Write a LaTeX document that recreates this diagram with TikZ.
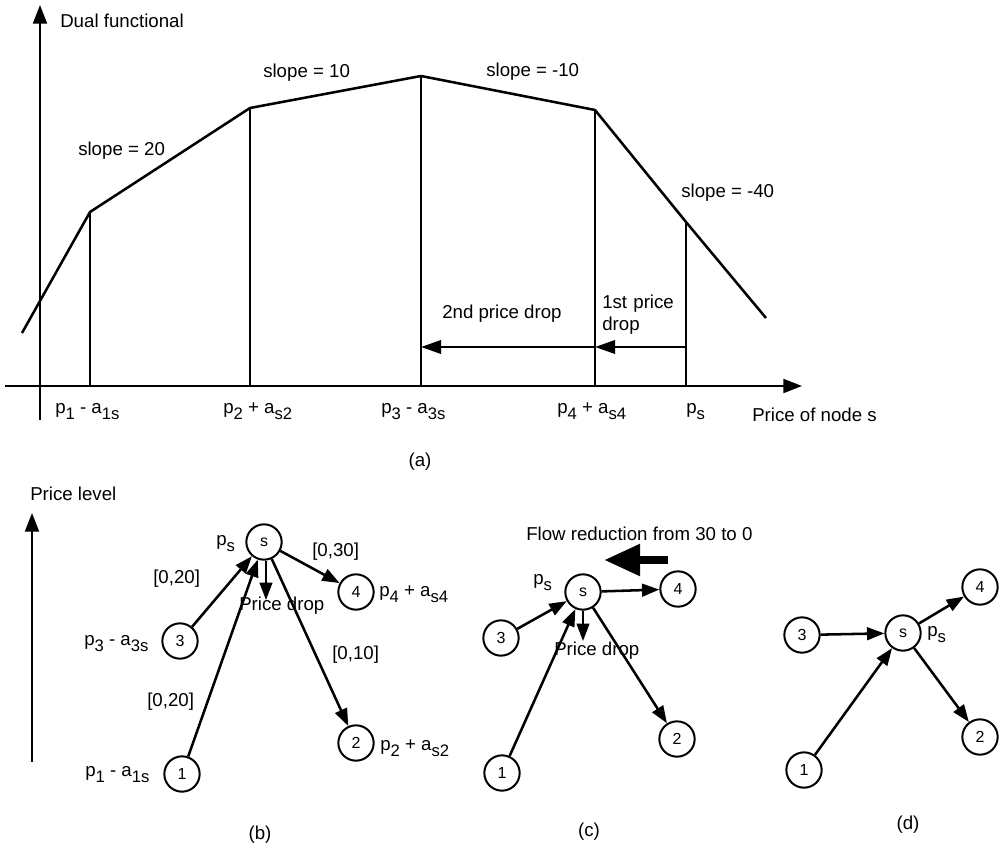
\documentclass[tikz,border=0pt]{standalone}
\usepackage{fontspec}
\setmainfont{Liberation Sans}
\usetikzlibrary{arrows.meta}
\newcommand\lbl{\fontsize{14pt}{16pt}\selectfont}
\newcommand\lo[1]{\raisebox{-5pt}{\fontsize{12.5pt}{13pt}\selectfont #1}}
\tikzset{
 txt/.style={inner sep=0pt, anchor=base west, font=\lbl},
 ctxt/.style={inner sep=0pt, anchor=center, font=\lbl},
 cnode/.style={circle, draw, line width=1.5pt, minimum size=26.5pt, inner sep=0pt, font=\fontsize{12pt}{13pt}\selectfont},
 garc/.style={line width=1.9pt, -{Triangle[length=13pt,width=9.5pt]}},
 axarr/.style={line width=1.5pt, -{Triangle[length=14pt,width=10.5pt]}},
 vline/.style={line width=1.5pt},
 curveline/.style={line width=1.9pt, line join=round},
 droparr/.style={line width=1.9pt, -{Triangle[length=15pt,width=10pt]}},
 pdarr/.style={line width=1.5pt, -{Triangle[length=13pt,width=9.5pt]}},
}
\begin{document}
\begin{tikzpicture}[x=0.75pt,y=-0.75pt]
\useasboundingbox (0,0) rectangle (1005,855);
% ---------- (a) chart ----------
\coordinate (ytop) at (40,5);
\coordinate (ybot) at (40,420);
\coordinate (xl) at (5,386);
\coordinate (xr) at (802,386);
\draw[axarr] (ybot) -- (ytop);
\draw[axarr] (xl) -- (xr);
\coordinate (c0) at (22,333);
\coordinate (k1) at (90,212);
\coordinate (k2) at (250,108);
\coordinate (k3) at (421,76);
\coordinate (k4) at (595,110);
\coordinate (k5) at (686,222);
\coordinate (c6) at (766,318);
\draw[curveline] (c0) -- (k1) -- (k2) -- (k3) -- (k4) -- (k5) -- (c6);
\foreach \k in {k1,k2,k3,k4,k5}{\draw[vline] (\k) -- (\k |- xl);}
\coordinate (d5) at (686,347);
\coordinate (d4) at (595,347);
\coordinate (d3) at (421,347);
\draw[droparr] (d5) -- (d4);
\draw[droparr] (d4) -- (d3);
\node[txt] (tdual) at (60,28) {Dual functional};
\node[txt] (ts20) at (78,156) {slope = 20};
\node[txt] (ts10) at (263,78) {slope = 10};
\node[txt] (tsm10) at (486,77) {slope = -10};
\node[txt] (tsm40) at (681,198) {slope = -40};
\node[txt] (t2nd) at (442,318) {2nd price drop};
\node[txt] (t1st) at (602,308) {1st\,\,price};
\node[txt] (t1drop) at (602,330) {drop};
\node[txt] (lx1) at (55,413) {p\lo{1} - a\lo{1s}};
\node[txt] (lx2) at (223,413) {p\lo{2} + a\lo{s2}};
\node[txt] (lx3) at (381,413) {p\lo{3} - a\lo{3s}};
\node[txt] (lx4) at (557,413) {p\lo{4} + a\lo{s4}};
\node[txt] (lxs) at (686,413) {p\lo{s}};
\node[txt] (lxp) at (752,421) {Price of node s};
\node[ctxt] (capa) at (420,462) {(a)};
% ---------- (b) ----------
\coordinate (plb) at (32,762);
\coordinate (plt) at (32,513);
\draw[axarr] (plb) -- (plt);
\node[txt] (tpl) at (30,500) {Price level};
\node[cnode] (sb) at (264,542) {s};
\node[cnode] (b4) at (356,592) {4};
\node[cnode] (b3) at (180,641) {3};
\node[cnode] (b2) at (356,743) {2};
\node[cnode] (b1) at (182,774) {1};
\node[txt] (bps) at (216,545) {p\lo{s}};
\node[txt] (b030) at (312,556) {[0,30]};
\node[txt] (b020a) at (153,583) {[0,20]};
\node[txt] (b020b) at (147,706) {[0,20]};
\node[txt] (b010) at (332,659) {[0,10]};
\node[txt] (bpd) at (239,610) {Price drop};
\node[txt] (bl4) at (379,596) {p\lo{4} + a\lo{s4}};
\node[txt] (bl3) at (84,645) {p\lo{3} - a\lo{3s}};
\node[txt] (bl2) at (380,750) {p\lo{2} + a\lo{s2}};
\node[txt] (bl1) at (85,776) {p\lo{1} - a\lo{1s}};
\coordinate (bpt) at (266,600);
\draw[pdarr] (sb.south -| bpt) -- (bpt);
\draw[garc] (b3) -- (sb);
\draw[garc] (b1) -- (sb);
\draw[garc] (sb) -- (b4);
\draw[garc] (sb) -- (b2);
\node[ctxt] (capb) at (260,835) {(b)};
% ---------- (c) ----------
\node[txt] (tflow) at (526,540) {Flow reduction from 30 to 0};
\coordinate (fa) at (668,560);
\coordinate (fb) at (604,560);
\draw[line width=6pt, -{Triangle[length=27pt,width=22.5pt]}] (fa) -- (fb);
\node[cnode] (sc) at (583,592) {s};
\node[cnode] (c4) at (678,589) {4};
\node[cnode] (c3) at (501,638) {3};
\node[cnode] (c2) at (677,739) {2};
\node[cnode] (c1) at (502,773) {1};
\node[txt] (cps) at (533,584) {p\lo{s}};
\node[txt] (cpd) at (554,655) {Price drop};
\coordinate (cpt) at (583,641);
\draw[pdarr] (sc) -- (cpt);
\draw[garc] (c3) -- (sc);
\draw[garc] (c1) -- (sc);
\draw[garc] (sc) -- (c4);
\draw[garc] (sc) -- (c2);
\node[ctxt] (capc) at (589,832) {(c)};
% ---------- (d) ----------
\node[cnode] (sd) at (903,633) {s};
\node[cnode] (d4n) at (980,587) {4};
\node[cnode] (d3n) at (802,635) {3};
\node[cnode] (d2n) at (980,737) {2};
\node[cnode] (d1n) at (804,770) {1};
\node[txt] (dps) at (927,636) {p\lo{s}};
\draw[garc] (d3n) -- (sd);
\draw[garc] (d1n) -- (sd);
\draw[garc] (sd) -- (d4n);
\draw[garc] (sd) -- (d2n);
\node[ctxt] (capd) at (908,825) {(d)};
\end{tikzpicture}
\end{document}
